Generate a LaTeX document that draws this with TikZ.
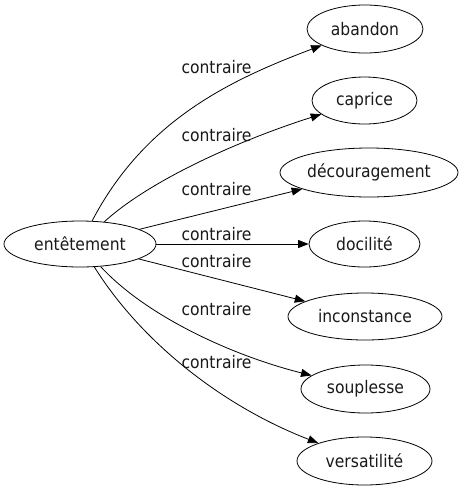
\documentclass[tikz,border=0pt]{standalone}
\usepackage{fontspec}
\setmainfont{DejaVu Sans Condensed}
\usetikzlibrary{shapes.geometric,arrows.meta}
\begin{document}
\begin{tikzpicture}[x=1pt,y=-1pt,
  every node/.style={font=\fontsize{17.3}{20}\selectfont, text=black!90},
  term/.style={ellipse, draw, inner sep=0pt, line width=0.8pt},
  lbl/.style={anchor=base, inner sep=0pt},
  edge/.style={line width=0.8pt, -{Triangle[length=10.5pt,width=8pt]}}]
\useasboundingbox (0,0) rectangle (464,491);
\node[term, minimum width=152pt, minimum height=46pt, label=center:entêtement] (ent) at (80,244) {};
\node[term, minimum width=116pt, minimum height=48pt, label=center:abandon] (aba) at (365,29) {};
\node[term, minimum width=105pt, minimum height=47pt, label=center:caprice] (cap) at (364.5,100.5) {};
\node[term, minimum width=178pt, minimum height=49pt, label=center:découragement] (dec) at (369,172.5) {};
\node[term, minimum width=111pt, minimum height=46pt, label=center:docilité] (doc) at (364.5,244) {};
\node[term, minimum width=154pt, minimum height=47pt, label=center:inconstance] (inc) at (365,316.5) {};
\node[term, minimum width=129pt, minimum height=48pt, label=center:souplesse] (sou) at (365.5,389) {};
\node[term, minimum width=135pt, minimum height=48pt, label=center:versatilité] (ver) at (364.5,461) {};

\draw[edge] (ent) .. controls (145,120) and (230,80) .. (aba);
\draw[edge] (ent) .. controls (150,180) and (240,140) .. (cap);
\draw[edge] (ent) -- (dec);
\draw[edge] (ent) -- (doc);
\draw[edge] (ent) -- (inc);
\draw[edge] (ent) .. controls (145,315) and (230,355) .. (sou);
\draw[edge] (ent) .. controls (140,340) and (220,405) .. (ver);

\node[lbl] (l1) at (216.5,73) {contraire};
\node[lbl] (l2) at (216.5,141) {contraire};
\node[lbl] (l3) at (216.5,195) {contraire};
\node[lbl] (l4) at (216.5,240) {contraire};
\node[lbl] (l5) at (216.5,267) {contraire};
\node[lbl] (l6) at (216.5,315) {contraire};
\node[lbl] (l7) at (216.5,368) {contraire};
\end{tikzpicture}
\end{document}
